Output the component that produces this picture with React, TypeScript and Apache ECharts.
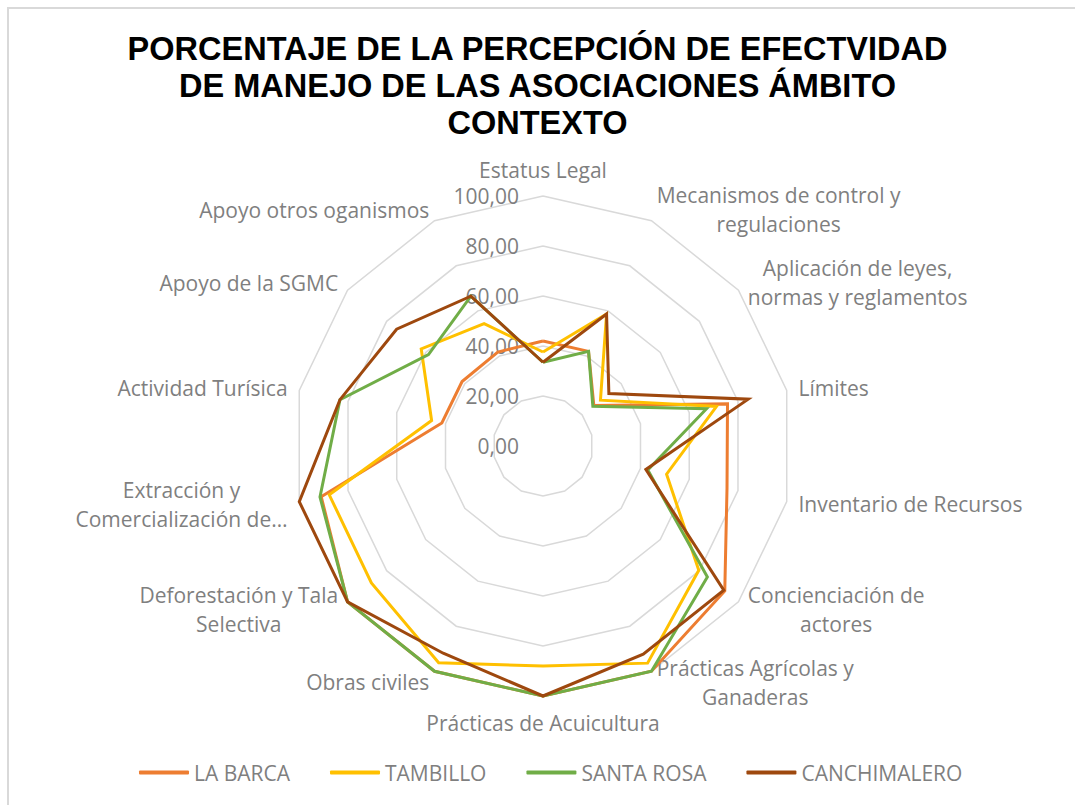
import React, { useEffect, useRef } from "react";
import * as echarts from "echarts";

// Indicators listed clockwise starting from the top
const INDICATORS = [
  "Estatus Legal",
  "Mecanismos de control y\nregulaciones",
  "Aplicación de leyes,\nnormas y reglamentos",
  "Límites",
  "Inventario de Recursos",
  "Concienciación de\nactores",
  "Prácticas Agrícolas y\nGanaderas",
  "Prácticas de Acuicultura",
  "Obras civiles",
  "Deforestación y Tala\nSelectiva",
  "Extracción y\nComercialización de…",
  "Actividad Turísica",
  "Apoyo de la SGMC",
  "Apoyo otros oganismos",
];

const SERIES_NAMES = ["LA BARCA", "TAMBILLO", "SANTA ROSA", "CANCHIMALERO"];
const SERIES_COLORS = ["#ED7D31", "#FFC000", "#70AD47", "#9E480E"];

const LA_BARCA = [42.0, 42.0, 26.0, 75.7, 75.5, 93.0, 100, 100, 100, 100, 91.0, 41.5, 41.4, 41.7];
const TAMBILLO = [37.6, 58.6, 29.4, 71.2, 50.7, 79.7, 96.4, 88.0, 96.2, 87.8, 87.7, 45.7, 62.3, 54.3];
const SANTA_ROSA = [33.5, 42.0, 25.5, 67.1, 43.0, 84.1, 100, 100, 100, 100, 91.5, 83.3, 58.6, 66.5];
const CANCHIMALERO = [33.5, 58.6, 33.7, 84.2, 42.2, 92.5, 92.4, 100, 92.0, 100, 100, 83.3, 74.9, 66.5];

const SERIES_VALUES = [LA_BARCA, TAMBILLO, SANTA_ROSA, CANCHIMALERO];

const AXIS_MIN = 0;
const AXIS_MAX = 100;
const SPLIT_NUMBER = 5;

const TITLE = "PORCENTAJE DE LA PERCEPCIÓN DE EFECTVIDAD\nDE MANEJO DE LAS ASOCIACIONES ÁMBITO\nCONTEXTO";

const GRAY = "#7f7f7f";
const FONT = "'Open Sans', sans-serif";

// ECharts places radar indicators counter-clockwise; reorder to clockwise.
function toEchartsOrder<T>(arr: T[]): T[] {
  const n = arr.length;
  return arr.map((_, k) => arr[(n - k) % n]);
}

export default function App() {
  const ref = useRef<HTMLDivElement>(null);

  useEffect(() => {
    if (!ref.current) return;
    const chart = echarts.init(ref.current, null, { renderer: "svg" });

    const indicators = toEchartsOrder(INDICATORS).map((name, k) => {
      const ind: any = { name, min: AXIS_MIN, max: AXIS_MAX };
      if (k === 0) {
        ind.axisLabel = {
          show: true,
          color: GRAY,
          fontSize: 21,
          fontFamily: FONT,
          margin: 24,
          formatter: (v: number) => v.toFixed(2).replace(".", ","),
        };
      }
      return ind;
    });

    const option: any = {
      animation: false,
      backgroundColor: "#ffffff",
      title: {
        text: TITLE,
        left: "center",
        top: 25,
        textStyle: {
          fontFamily: "'Liberation Sans', Arial, sans-serif",
          fontWeight: "bold",
          fontSize: 32.5,
          lineHeight: 37,
          color: "#000000",
        },
      },
      legend: {
        data: SERIES_NAMES,
        left: 134,
        top: 757,
        itemGap: 40,
        itemWidth: 50,
        itemHeight: 4,
        icon: "roundRect",
        textStyle: { color: GRAY, fontSize: 21, fontFamily: FONT },
      },
      radar: {
        center: [543, 446],
        radius: 250,
        splitNumber: SPLIT_NUMBER,
        shape: "polygon",
        nameGap: 12,
        indicator: indicators,
        axisName: {
          color: GRAY,
          fontSize: 21,
          fontFamily: FONT,
          lineHeight: 29,
          formatter: (name: string) =>
            name
              .split("\n")
              .map((l) => `{c|${l}}`)
              .join("\n"),
          rich: {
            c: {
              align: "center",
              color: GRAY,
              fontSize: 21,
              fontFamily: FONT,
              lineHeight: 29,
            },
          },
        },
        axisLine: { show: false },
        axisTick: { show: false },
        axisLabel: { show: false },
        splitArea: { show: false },
        splitLine: { lineStyle: { color: "#d9d9d9", width: 1.5 } },
      },
      series: SERIES_NAMES.map((name, i) => ({
        name,
        type: "radar",
        symbol: "none",
        itemStyle: { color: SERIES_COLORS[i] },
        lineStyle: { color: SERIES_COLORS[i], width: 3, join: "miter", miterLimit: 6 },
        data: [{ name, value: toEchartsOrder(SERIES_VALUES[i]) }],
        z: 2 + i,
      })),
      graphic: [
        {
          type: "rect",
          shape: { x: 8, y: 8, width: 1100, height: 830 },
          style: { fill: "none", stroke: "#d9d9d9", lineWidth: 2 },
          silent: true,
        },
      ],
    };

    chart.setOption(option);
    return () => chart.dispose();
  }, []);

  return (
    <div
      ref={ref}
      style={{ position: "fixed", left: 0, top: 0, width: 1075, height: 805 }}
    />
  );
}
